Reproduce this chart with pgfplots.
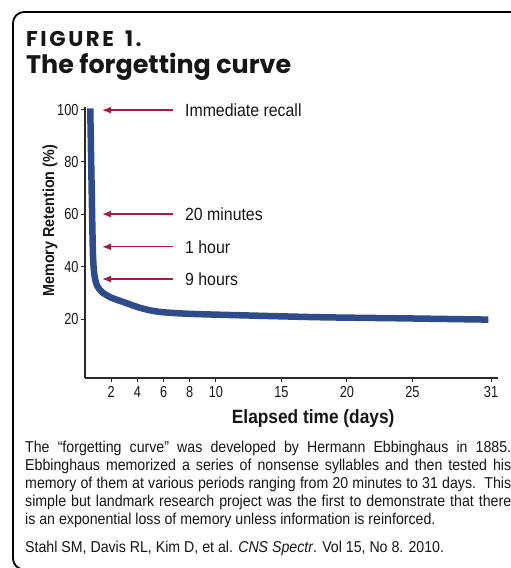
\documentclass[border=0pt]{standalone}
\usepackage{pgfplots}
\pgfplotsset{compat=1.18}
\usepackage{fontspec}
\setmainfont[FakeStretch=0.9]{Liberation Sans}
\newfontfamily\tickfont[FakeStretch=0.8]{Liberation Sans}
\newfontfamily\titlefont{Poppins}
\newfontfamily\figfont[LetterSpace=12]{Poppins}
\usetikzlibrary{arrows.meta}
\definecolor{curvecol}{HTML}{2F4B8A}
\definecolor{arrowcol}{HTML}{9E1F3F}
\definecolor{textcol}{HTML}{161616}
\definecolor{axisgray}{HTML}{2A2A2A}
\newcommand{\jl}[1]{\makebox[486bp][s]{#1}}
\begin{document}
\begin{tikzpicture}
\useasboundingbox (0,0) rectangle (511bp,568bp);
% frame
\draw[line width=1.8bp, black, rounded corners=11bp] (620bp,-1.5bp) -- (13bp,-1.5bp) -- (13bp,556bp) -- (620bp,556bp);
% titles
\node[anchor=base west, inner sep=0pt, text=textcol, font=\figfont\bfseries\fontsize{21.5}{24}\selectfont] at (26bp,521bp) {FIGURE\hspace{11bp}1.};
\node[anchor=base west, inner sep=0pt, text=textcol, font=\titlefont\bfseries\fontsize{25.5}{30}\selectfont] at (26bp,494bp) {The forgetting curve};
\begin{axis}[
  at={(85bp,190bp)}, anchor=south west, scale only axis,
  width=412.6bp, height=271bp,
  xmin=0, xmax=31.5, ymin=-2.5, ymax=101,
  axis lines=left,
  axis line style={-, line width=1.3bp, draw=axisgray},
  xtick={2,4,6,8,10,15,20,25,31},
  ytick={20,40,60,80,100},
  tick align=outside, major tick length=4bp,
  tick style={line width=1bp, draw=axisgray},
  /pgf/number format/assume math mode=true,
  ticklabel style={font=\tickfont\fontsize{16}{16}\selectfont, text=textcol},
  xticklabel style={yshift=-1bp},
  yticklabel style={xshift=1bp},
  xlabel={Elapsed time (days)},
  ylabel={Memory Retention (\%)},
  xlabel style={at={(axis description cs:0.553,-0.148)}, anchor=center, font=\bfseries\fontsize{19.3}{22}\selectfont, text=textcol},
  ylabel style={at={(axis description cs:-0.085,0.58)}, anchor=center, font=\bfseries\fontsize{16}{19}\selectfont, text=textcol},
  clip=false,
]
\addplot[curvecol, line width=6.5bp, line join=round, line cap=butt, smooth, tension=0.45] coordinates {
(0.4,100.5) (0.5,72) (0.6,46) (0.7,37.5) (0.9,33) (1.3,30.3) (2,28.2) (3,26.4) (4,24.6) (5,23.3) (6,22.6) (8,22.0) (11.5,21.5) (18,20.7) (24,20.3) (30.8,19.8)
};
\draw[arrowcol, line width=1.3bp, -{Latex[length=9bp,width=7bp]}] (axis cs:6.7,99.8) -- (axis cs:1.3,99.8);
\draw[arrowcol, line width=1.3bp, -{Latex[length=9bp,width=7bp]}] (axis cs:6.7,60.1) -- (axis cs:1.3,60.1);
\draw[arrowcol, line width=1.3bp, -{Latex[length=9bp,width=7bp]}] (axis cs:6.7,47.6) -- (axis cs:1.3,47.6);
\draw[arrowcol, line width=1.3bp, -{Latex[length=9bp,width=7bp]}] (axis cs:6.7,35.3) -- (axis cs:1.3,35.3);
\node[anchor=west, inner sep=0pt, text=textcol, font=\fontsize{17.7}{19}\selectfont] at (axis cs:7.63,99.8) {Immediate recall};
\node[anchor=west, inner sep=0pt, text=textcol, font=\fontsize{17.7}{19}\selectfont] at (axis cs:7.63,60.1) {20 minutes};
\node[anchor=west, inner sep=0pt, text=textcol, font=\fontsize{17.7}{19}\selectfont] at (axis cs:7.63,47.6) {1 hour};
\node[anchor=west, inner sep=0pt, text=textcol, font=\fontsize{17.7}{19}\selectfont] at (axis cs:7.63,35.3) {9 hours};
\end{axis}
% caption
\begin{scope}[every node/.style={anchor=base west, inner sep=0pt, text=textcol, font=\fontsize{15.8}{17.8}\selectfont}]
\node at (25bp,115bp) {\jl{The “forgetting curve” was developed by Hermann Ebbinghaus in 1885.}};
\node at (25bp,97.2bp) {\jl{Ebbinghaus memorized a series of nonsense syllables and then tested his}};
\node at (25bp,79.4bp) {\jl{memory of them at various periods ranging from 20 minutes to 31 days.\ \ This}};
\node at (25bp,61.6bp) {\jl{simple but landmark research project was the first to demonstrate that there}};
\node at (25bp,43.8bp) {is an exponential loss of memory unless information is reinforced.};
\node at (25bp,16bp) {Stahl SM, Davis RL, Kim D, et al. \textit{CNS Spectr}. Vol 15, No 8. 2010.};
\end{scope}
\end{tikzpicture}
\end{document}
